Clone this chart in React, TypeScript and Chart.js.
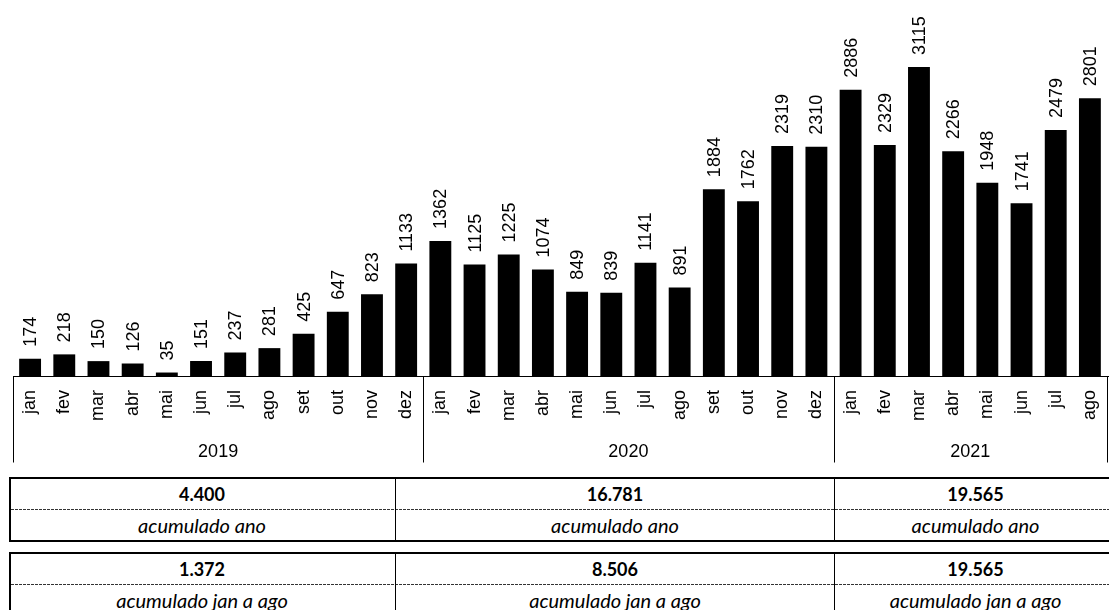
import React, { useEffect, useRef } from "react";
import { Chart, registerables } from "chart.js";

Chart.register(...registerables);

// ---- data ----
const months = ["jan", "fev", "mar", "abr", "mai", "jun", "jul", "ago", "set", "out", "nov", "dez"];
const years = ["2019", "2020", "2021"];
const monthsPerYear = [12, 12, 8];
const values2019 = [174, 218, 150, 126, 35, 151, 237, 281, 425, 647, 823, 1133];
const values2020 = [1362, 1125, 1225, 1074, 849, 839, 1141, 891, 1884, 1762, 2319, 2310];
const values2021 = [2886, 2329, 3115, 2266, 1948, 1741, 2479, 2801];
const accYearValues = ["4.400", "16.781", "19.565"];
const accJanAgoValues = ["1.372", "8.506", "19.565"];
const accYearLabel = "acumulado ano";
const accJanAgoLabel = "acumulado jan a ago";

const categoryLabels: string[] = [];
monthsPerYear.forEach((n) => {
  for (let i = 0; i < n; i++) categoryLabels.push(months[i]);
});
const allValues = [...values2019, ...values2020, ...values2021];

const FONT = "'Liberation Sans', Arial, sans-serif";

const annotPlugin = {
  id: "annot",
  afterDatasetsDraw(chart: any) {
    const ctx = chart.ctx as CanvasRenderingContext2D;
    const meta = chart.getDatasetMeta(0);
    const data = chart.data.datasets[0].data as number[];
    ctx.save();
    ctx.fillStyle = "#000";
    ctx.font = `18px ${FONT}`;
    meta.data.forEach((el: any, i: number) => {
      ctx.save();
      ctx.translate(el.x + 1, el.y - 12);
      ctx.rotate(-Math.PI / 2);
      ctx.textAlign = "left";
      ctx.textBaseline = "middle";
      ctx.fillText(String(data[i]), 0, 0);
      ctx.restore();
    });

    const xs = chart.scales.x;
    const y0 = Math.round(xs.top) + 0.5;
    ctx.strokeStyle = "#000";
    ctx.lineWidth = 1;
    ctx.beginPath();
    ctx.moveTo(xs.left, y0);
    ctx.lineTo(chart.width, y0);
    ctx.stroke();

    const bounds = [0];
    let acc = 0;
    monthsPerYear.forEach((n) => {
      acc += n;
      bounds.push(acc);
    });
    ctx.beginPath();
    bounds.forEach((b) => {
      const x = Math.round(xs.getPixelForValue(b - 0.5)) + 0.5;
      ctx.moveTo(x, y0);
      ctx.lineTo(x, y0 + 86);
    });
    ctx.stroke();

    ctx.textAlign = "center";
    ctx.textBaseline = "middle";
    ctx.font = `18px ${FONT}`;
    years.forEach((yr, k) => {
      const xa = xs.getPixelForValue(bounds[k] - 0.5);
      const xb = xs.getPixelForValue(bounds[k + 1] - 0.5);
      ctx.fillText(yr, (xa + xb) / 2, y0 + 76);
    });
    ctx.restore();
  },
};

function SummaryTable({ top, values, label }: { top: number; values: string[]; label: string }) {
  const cols = [
    { left: 9, width: 386 },
    { left: 395, width: 439 },
    { left: 834, width: 282 },
  ];
  const txt: React.CSSProperties = {
    position: "absolute",
    left: 0,
    right: 0,
    textAlign: "center",
    fontFamily: "Lato, 'Open Sans', sans-serif",
    color: "#000",
    lineHeight: "30px",
    height: 30,
    whiteSpace: "nowrap",
  };
  return (
    <div
      style={{
        position: "absolute",
        left: 9,
        top,
        width: 1107,
        height: 65,
        border: "2px solid #000",
        boxSizing: "border-box",
      }}
    >
      <div
        style={{
          position: "absolute",
          left: 0,
          right: 0,
          top: 30,
          height: 1,
          background: "repeating-linear-gradient(to right, #333 0 3px, transparent 3px 4px)",
        }}
      />
      {cols.map((c, i) => (
        <div
          key={i}
          style={{
            position: "absolute",
            left: c.left - 11,
            width: c.width,
            top: 0,
            bottom: 0,
            borderLeft: i === 0 ? "none" : "1px solid #000",
            boxSizing: "border-box",
          }}
        >
          <div style={{ ...txt, top: 0, fontWeight: 700, fontSize: 18 }}>{values[i]}</div>
          <div style={{ ...txt, top: 31, fontStyle: "italic", fontSize: 20 }}>{label}</div>
        </div>
      ))}
    </div>
  );
}

export default function App() {
  const canvasRef = useRef<HTMLCanvasElement | null>(null);

  useEffect(() => {
    if (!canvasRef.current) return;
    const chart = new Chart(canvasRef.current, {
      type: "bar",
      data: {
        labels: categoryLabels,
        datasets: [
          {
            data: allValues,
            backgroundColor: "#000",
            borderWidth: 0,
            categoryPercentage: 1,
            barPercentage: 0.64,
          },
        ],
      },
      options: {
        animation: false,
        responsive: false,
        devicePixelRatio: 1,
        layout: { padding: { left: 13, right: 2, top: 9, bottom: 0 } },
        plugins: { legend: { display: false }, tooltip: { enabled: false } },
        scales: {
          x: {
            grid: { display: false, drawTicks: false },
            border: { display: false },
            ticks: {
              autoSkip: false,
              minRotation: 90,
              maxRotation: 90,
              padding: 14,
              color: "#000",
              font: { family: FONT, size: 18 },
            },
            afterFit: (scale: any) => {
              scale.height = 94;
              scale.paddingLeft = 0;
              scale.paddingRight = 0;
            },
          },
          y: {
            display: false,
            min: 0,
            max: 3700,
          },
        },
      },
      plugins: [annotPlugin],
    });
    return () => chart.destroy();
  }, []);

  return (
    <div style={{ position: "absolute", left: 0, top: 0, width: 1109, height: 610, overflow: "hidden", background: "#fff" }}>
      <canvas ref={canvasRef} width={1109} height={470} style={{ position: "absolute", left: 0, top: 0, width: 1109, height: 470 }} />
      <SummaryTable top={477} values={accYearValues} label={accYearLabel} />
      <SummaryTable top={552} values={accJanAgoValues} label={accJanAgoLabel} />
    </div>
  );
}
